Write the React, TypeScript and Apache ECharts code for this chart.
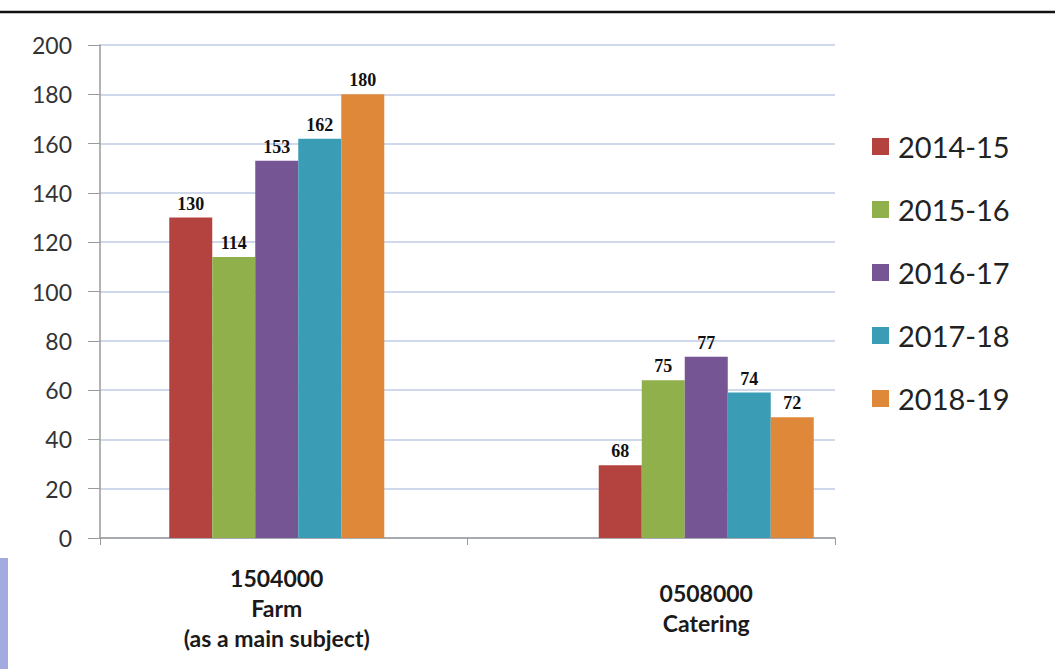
import React, { useEffect, useRef } from "react";
import * as echarts from "echarts";

const categories = ["1504000\nFarm\n(as a main subject)", "0508000\nCatering"];
const seriesNames = ["2014-15", "2015-16", "2016-17", "2017-18", "2018-19"];
// bar heights as drawn in the picture
const barValues = [
  [130, 29.5],
  [114, 64],
  [153, 73.5],
  [162, 59],
  [180, 49],
];
// value labels as printed above the bars
const barLabels = [
  ["130", "68"],
  ["114", "75"],
  ["153", "77"],
  ["162", "74"],
  ["180", "72"],
];
const colors = ["#b4433f", "#8fb04a", "#765594", "#3b9cb5", "#e0883a"];
const yMin = 0;
const yMax = 200;
const yInterval = 20;

export default function App() {
  const ref = useRef<HTMLDivElement>(null);
  useEffect(() => {
    if (!ref.current) return;
    const chart = echarts.init(ref.current, null, { renderer: "svg" });
    const option: any = {
      animation: false,
      backgroundColor: "#ffffff",
      color: colors,
      grid: [
        { left: 62, right: 134, top: 45, bottom: 131 },
        { left: 100, right: 220, top: 45, bottom: 131 },
      ],
      legend: {
        orient: "vertical",
        left: 867,
        top: 127,
        itemWidth: 17,
        itemHeight: 17,
        itemGap: 34,
        icon: "rect",
        textStyle: { fontFamily: "Lato", fontSize: 29, color: "#222", padding: [0, 0, 0, 4] },
        data: seriesNames,
      },
      xAxis: [
        {
          type: "category",
          gridIndex: 0,
          data: categories,
          axisLine: { show: false },
          axisTick: { show: false },
          axisLabel: {
            margin: 70,
            verticalAlign: "middle",
            lineHeight: 30,
            fontFamily: "Lato",
            fontWeight: "bold",
            fontSize: 23,
            color: "#1a1a1a",
          },
        },
        {
          type: "category",
          gridIndex: 1,
          data: ["", ""],
          axisLine: { show: true, lineStyle: { color: "#9a9a9a", width: 1.5 } },
          axisTick: { show: true, length: 7, lineStyle: { color: "#9a9a9a" } },
          axisLabel: { show: false },
        },
      ],
      yAxis: [
        {
          type: "value",
          gridIndex: 0,
          min: yMin,
          max: yMax,
          interval: yInterval,
          show: false,
        },
        {
          type: "value",
          gridIndex: 1,
          min: yMin,
          max: yMax,
          interval: yInterval,
          axisLine: { show: true, lineStyle: { color: "#9a9a9a", width: 1.5 } },
          axisTick: { show: true, length: 12, lineStyle: { color: "#9a9a9a" } },
          axisLabel: {
            margin: 28,
            fontFamily: "Lato",
            fontSize: 23,
            color: "#333",
          },
          splitLine: { show: true, lineStyle: { color: "#bfcde4", width: 1.5 } },
        },
      ],
      series: seriesNames.map((name, si) => ({
        type: "bar",
        name,
        xAxisIndex: 0,
        yAxisIndex: 0,
        barWidth: 43,
        barGap: "0%",
        data: barValues[si],
        itemStyle: { color: colors[si] },
        label: {
          show: true,
          position: "top",
          distance: 5,
          fontFamily: "Liberation Serif",
          fontWeight: "bold",
          fontSize: 18,
          color: "#111",
          formatter: (p: any) => barLabels[si][p.dataIndex],
        },
      })),
      graphic: [
        {
          type: "line",
          shape: { x1: 0, y1: 12, x2: 1055, y2: 12 },
          style: { stroke: "#111", lineWidth: 2.5 },
        },
        {
          type: "rect",
          shape: { x: 0, y: 558, width: 8, height: 111 },
          style: { fill: "#a3aadf" },
        },
      ],
    };
    chart.setOption(option);
    return () => chart.dispose();
  }, []);
  return (
    <div
      ref={ref}
      style={{ position: "fixed", left: 0, top: 0, width: 1055, height: 669 }}
    />
  );
}
